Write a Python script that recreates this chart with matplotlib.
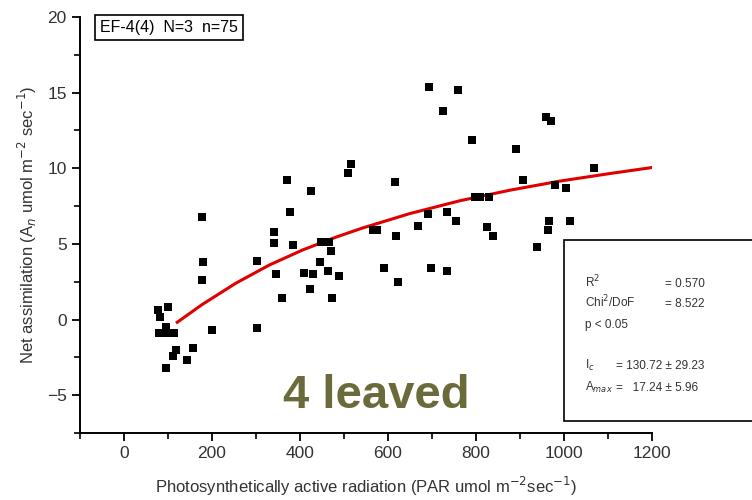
import matplotlib
matplotlib.use("Agg")
import matplotlib.pyplot as plt
from matplotlib.patches import Rectangle
from matplotlib.ticker import MultipleLocator

# measured leaf points (PAR, net assimilation)
par = [77, 82, 100, 80, 88, 95, 102, 114, 95, 118, 112, 96, 144, 157,
       180, 178, 178, 200, 303, 303, 346, 359, 341, 341, 371, 378, 383,
       426, 410, 429, 423, 446, 464, 471, 473, 489, 448, 465, 510, 517,
       565, 574, 592, 622, 615, 619, 669, 690, 694, 697, 724, 733, 735,
       754, 758, 792, 797, 808, 829, 824, 838, 890, 906, 938, 958, 970,
       963, 965, 979, 1004, 1013, 1068]
an = [0.66, 0.2, 0.86, -0.86, -0.86, -0.86, -0.86, -0.86, -0.5, -2.0, -2.4,
      -3.2, -2.7, -1.85, 3.8, 2.6, 6.8, -0.66, -0.53, 3.85, 3.0, 1.4, 5.05,
      5.8, 9.2, 7.1, 4.9, 8.5, 3.1, 3.0, 2.0, 3.8, 3.2, 4.5, 1.4, 2.9, 5.1,
      5.1, 9.7, 10.3, 5.9, 5.9, 3.4, 2.5, 9.1, 5.5, 6.2, 7.0, 15.4, 3.4,
      13.8, 3.2, 7.1, 6.5, 15.2, 11.9, 8.1, 8.1, 8.1, 6.1, 5.5, 11.3, 9.2,
      4.8, 13.4, 13.1, 5.9, 6.5, 8.9, 8.7, 6.5, 10.0]

# fitted light-response curve
fit_par = [121, 178, 254, 330, 406, 482, 542, 649, 763, 877, 990, 1104, 1200]
fit_an = [-0.18, 1.0, 2.4, 3.6, 4.6, 5.45, 6.05, 7.0, 7.85, 8.55, 9.15, 9.65, 10.05]

stat_labels = ["R$^2$", "Chi$^2$/DoF", "p < 0.05", "I$_c$", "A$_{max}$"]
stat_values = ["= 0.570", "= 8.522", "", "= 130.72 ± 29.23", "=   17.24 ± 5.96"]


def main() -> None:
    plt.rcParams["font.family"] = ["Liberation Sans", "DejaVu Sans"]
    fig = plt.figure(figsize=(7.52, 5.0), dpi=100)
    ax = fig.add_axes([80 / 752, 67 / 500, 572 / 752, 416 / 500])

    ax.scatter(par, an, marker="s", s=36, color="black", zorder=3, linewidths=0)
    ax.plot(fit_par, fit_an, color="#e00000", lw=2.2, zorder=2)

    ax.set_xlim(-100, 1200)
    ax.set_ylim(-7.5, 20)
    ax.xaxis.set_major_locator(MultipleLocator(200))
    ax.xaxis.set_minor_locator(MultipleLocator(100))
    ax.yaxis.set_major_locator(MultipleLocator(5))
    ax.yaxis.set_minor_locator(MultipleLocator(2.5))
    for side in ("top", "right"):
        ax.spines[side].set_visible(False)
    for side in ("left", "bottom"):
        ax.spines[side].set_linewidth(1.4)
    ax.tick_params(which="major", direction="out", length=6, width=1.3,
                   labelsize=12.5, labelcolor="#333333")
    ax.tick_params(which="minor", direction="out", length=4, width=1.2)

    ax.set_xlabel("Photosynthetically active radiation (PAR umol m$^{-2}$sec$^{-1}$)",
                  fontsize=12, color="#333333", labelpad=10)
    ax.set_ylabel("Net assimilation (A$_n$ umol m$^{-2}$ sec$^{-1}$)",
                  fontsize=12, color="#333333", labelpad=6)

    ax.text(0.035, 0.993, "EF-4(4)  N=3  n=75", transform=ax.transAxes,
            fontsize=11.5, va="top", ha="left",
            bbox=dict(boxstyle="square,pad=0.3", fc="white", ec="black", lw=1.2))

    # statistics box, partly outside the plot on the right
    fig.patches.append(Rectangle((564 / 752, 79 / 500), 0.3, 181 / 500,
                                 transform=fig.transFigure, fc="white",
                                 ec="black", lw=1.2, zorder=5))
    rows_y = [213, 193, 172, 131, 109]
    value_x = [665, 665, 665, 616, 616]
    for label, value, y, vx in zip(stat_labels, stat_values, rows_y, value_x):
        fig.text(585 / 752, y / 500, label, fontsize=8.5, color="#333333", zorder=6)
        if value:
            fig.text(vx / 752, y / 500, value, fontsize=8.5, color="#333333", zorder=6)

    fig.text(376 / 752, 92 / 500, "4 leaved", fontsize=34, fontweight="bold",
             color="#6b6a3a", ha="center", va="baseline")

    fig.savefig("out.png", dpi=100)
    plt.close(fig)


if __name__ == "__main__":
    main()
